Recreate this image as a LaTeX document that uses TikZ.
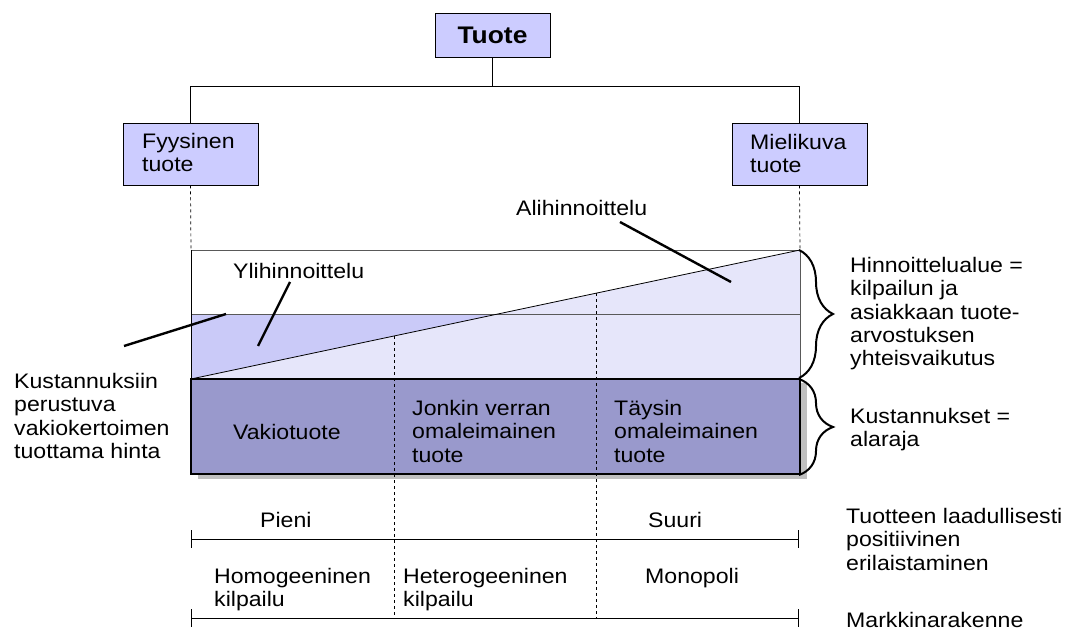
\documentclass[tikz,border=0pt]{standalone}
\usepackage{fontspec}
\setmainfont{Liberation Sans}[FakeStretch=1.1]
\usetikzlibrary{decorations.pathreplacing}
\definecolor{boxc}{HTML}{CCCCFF}
\definecolor{medc}{HTML}{CACAF8}
\definecolor{lightc}{HTML}{E6E6FA}
\definecolor{darkc}{HTML}{9999CC}
\definecolor{shadc}{HTML}{C0C0C0}
\newcommand\bodyf{\fontsize{21}{23.3}\selectfont}
\begin{document}
\begin{tikzpicture}[x=1pt,y=-1pt,
  lbl/.style={font=\bodyf, inner sep=0pt, align=left, anchor=north west},
  topbox/.style={draw, fill=boxc, line width=0.8pt, minimum width=135pt, minimum height=62pt},
  pointer/.style={line width=2.4pt},
  thinline/.style={line width=0.8pt},
  dashline/.style={line width=0.7pt, dash pattern=on 3pt off 3pt},
  bracestyle/.style={decorate, decoration={brace, amplitude=34pt, aspect=0.5}, line width=2pt},
  tick/.style={line width=1pt}]
\useasboundingbox (0,0) rectangle (1085,631);

% tree
\node[draw, fill=boxc, line width=0.8pt, minimum width=115pt, minimum height=44pt,
      font=\fontsize{24}{26}\selectfont\bfseries] (tuote) at (492.5,35) {Tuote};
\node[topbox] (fb) at (190.5,154) {};
\node[topbox] (mb) at (799.5,154) {};
\node[lbl] (fbt) at (142,133) {Fyysinen\\tuote};
\node[lbl] (mbt) at (750,134) {Mielikuva\\tuote};
\coordinate (hub) at (492.5,86);
\coordinate (TL) at (191,250);
\coordinate (TR) at (800,250);
\coordinate (ML) at (191,314);
\coordinate (MR) at (800,314);
\coordinate (CL) at (191,379);
\coordinate (CR) at (800,379);
\coordinate (BL) at (191,474);
\coordinate (BR) at (800,474);
\draw[thinline] (tuote.south) -- (hub);
\draw[thinline] (hub) -| (fb.north);
\draw[thinline] (hub) -| (mb.north);

% dashed guides from boxes
\draw[dashline] (fb.south) -- (TL);
\draw[dashline] (mb.south) -- (TR);

% areas
\fill[medc] (ML) rectangle (CR);
\fill[lightc] (CL) -- (TR) -- (CR) -- cycle;
\fill[shadc] (198,383) rectangle (807,479);
\fill[darkc] (CL) rectangle (BR);
\draw[thinline, gray!70!black] (TL) -- (TR);
\draw[thinline, gray!70!black] (ML) -- (MR);
\draw[thinline, gray!70!black] (TR) -- (CR);
\draw[thinline] (TL) -- (CL);
\draw[thinline] (CL) -- (TR);
\draw[line width=1.2pt] (CL) rectangle (BR);

% vertical dashed dividers
\coordinate (D1t) at (394,336.0);
\coordinate (D1b) at (394,618);
\coordinate (D2t) at (596,293.2);
\coordinate (D2b) at (596,618);
\draw[dashline] (D1t) -- (D1b);
\draw[dashline] (D2t) -- (D2b);

% labels with pointers
\node[lbl] (ali) at (516,200) {Alihinnoittelu};
\node[lbl] (yli) at (233,263) {Ylihinnoittelu};
\coordinate (aliA) at (620,222);
\coordinate (aliB) at (731,282);
\coordinate (yliA) at (290,282);
\coordinate (yliB) at (258,346);
\coordinate (kusA) at (124,346);
\coordinate (kusB) at (226,314);
\draw[pointer] (aliA) -- (aliB);
\draw[pointer] (yliA) -- (yliB);
\draw[pointer] (kusA) -- (kusB);
\node[lbl] (kust) at (14,373) {Kustannuksiin\\perustuva\\vakiokertoimen\\tuottama hinta};

% texts in cost area
\node[lbl] (vakio) at (233,424) {Vakiotuote};
\node[lbl] (jonkin) at (412,400) {Jonkin verran\\omaleimainen\\tuote};
\node[lbl] (taysin) at (614,400) {Täysin\\omaleimainen\\tuote};

% braces
\coordinate (b1a) at (799,250);
\coordinate (b1b) at (799,378);
\coordinate (b2a) at (799,379);
\coordinate (b2b) at (799,475);
\draw[bracestyle] (b1a) -- (b1b);
\draw[bracestyle] (b2a) -- (b2b);
\node[lbl] (hinn) at (850,257) {Hinnoittelualue =\\kilpailun ja\\asiakkaan tuote-\\arvostuksen\\yhteisvaikutus};
\node[lbl] (kustr) at (850,408) {Kustannukset =\\alaraja};

% scales
\coordinate (s1l) at (191,539);
\coordinate (s1r) at (798,539);
\coordinate (s2l) at (191,618);
\coordinate (s2r) at (798,618);
\draw[thinline] (s1l) -- (s1r);
\draw[tick] ([yshift=9pt]s1l) -- ([yshift=-9pt]s1l);
\draw[tick] ([yshift=9pt]s1r) -- ([yshift=-9pt]s1r);
\draw[thinline] (s2l) -- (s2r);
\draw[tick] ([yshift=9pt]s2l) -- ([yshift=-9pt]s2l);
\draw[tick] ([yshift=9pt]s2r) -- ([yshift=-9pt]s2r);
\node[lbl] (pieni) at (260,512) {Pieni};
\node[lbl] (suuri) at (648,512) {Suuri};
\node[lbl] (homo) at (214,568) {Homogeeninen\\kilpailu};
\node[lbl] (hetero) at (403,568) {Heterogeeninen\\kilpailu};
\node[lbl] (mono) at (645,568) {Monopoli};
\node[lbl] (tuotteen) at (846,508) {Tuotteen laadullisesti\\positiivinen\\erilaistaminen};
\node[lbl] (markk) at (846,612) {Markkinarakenne};
\end{tikzpicture}
\end{document}
